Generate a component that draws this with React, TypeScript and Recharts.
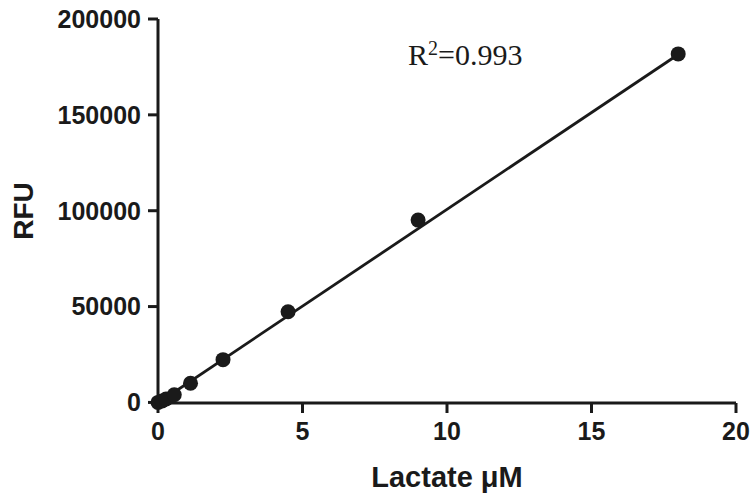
import React from 'react';
import { ComposedChart, Scatter, Line, XAxis, YAxis, Label } from 'recharts';

// lactate standard curve
const concentrations = [0, 0.14, 0.28, 0.5625, 1.125, 2.25, 4.5, 9, 18];
const rfuValues = [0, 800, 1800, 4000, 10000, 22300, 47300, 95100, 181800];

// linear fit endpoints
const fitX = [0, 18];
const fitY = [-300, 181500];

const xTicks = [0, 5, 10, 15, 20];
const yTicks = [0, 50000, 100000, 150000, 200000];
const rSquared = '0.993';

const points = concentrations.map((x, i) => ({ x, y: rfuValues[i] }));
const fitLine = fitX.map((x, i) => ({ x, y: fitY[i] }));

const ink = '#1a1a1a';
const sans = 'Liberation Sans, Arial, sans-serif';
const tickStyle = { fill: ink, fontSize: 25, fontWeight: 700, fontFamily: sans };
const titleStyle = { fill: ink, fontSize: 29, fontWeight: 700, fontFamily: sans };

export default function App() {
  return (
    <div style={{ position: 'absolute', left: 0, top: 0, width: 753, height: 499, background: '#fff' }}>
      <ComposedChart width={753} height={499} margin={{ top: 19, right: 17, bottom: 0, left: 0 }}>
        <XAxis
          type="number"
          dataKey="x"
          domain={[0, 20]}
          ticks={xTicks}
          height={96}
          tick={tickStyle}
          tickSize={10}
          tickMargin={9}
          stroke={ink}
          strokeWidth={3}
          tickLine={{ stroke: ink, strokeWidth: 3 }}
        >
          <Label value="Lactate μM" position="insideBottom" offset={12} style={titleStyle} />
        </XAxis>
        <YAxis
          type="number"
          domain={[0, 200000]}
          ticks={yTicks}
          width={158}
          tick={tickStyle}
          tickSize={10}
          tickMargin={7}
          stroke={ink}
          strokeWidth={3}
          tickLine={{ stroke: ink, strokeWidth: 3 }}
        >
          <Label
            value="RFU"
            angle={-90}
            position="insideLeft"
            offset={23}
            style={{ ...titleStyle, fontSize: 28, textAnchor: 'middle' }}
          />
        </YAxis>
        <Line
          data={fitLine}
          dataKey="y"
          stroke={ink}
          strokeWidth={2.8}
          dot={false}
          isAnimationActive={false}
        />
        <Scatter
          data={points}
          dataKey="y"
          fill={ink}
          shape={(props: any) => <circle cx={props.cx} cy={props.cy} r={7.5} fill={ink} />}
          isAnimationActive={false}
        />
      </ComposedChart>
      <div
        style={{
          position: 'absolute',
          left: 408,
          top: 40,
          fontFamily: 'Liberation Serif, Times New Roman, serif',
          fontSize: 30,
          color: ink,
          lineHeight: 1,
          whiteSpace: 'nowrap',
        }}
      >
        R<span style={{ fontSize: 20, position: 'relative', top: -10 }}>2</span>={rSquared}
      </div>
    </div>
  );
}
